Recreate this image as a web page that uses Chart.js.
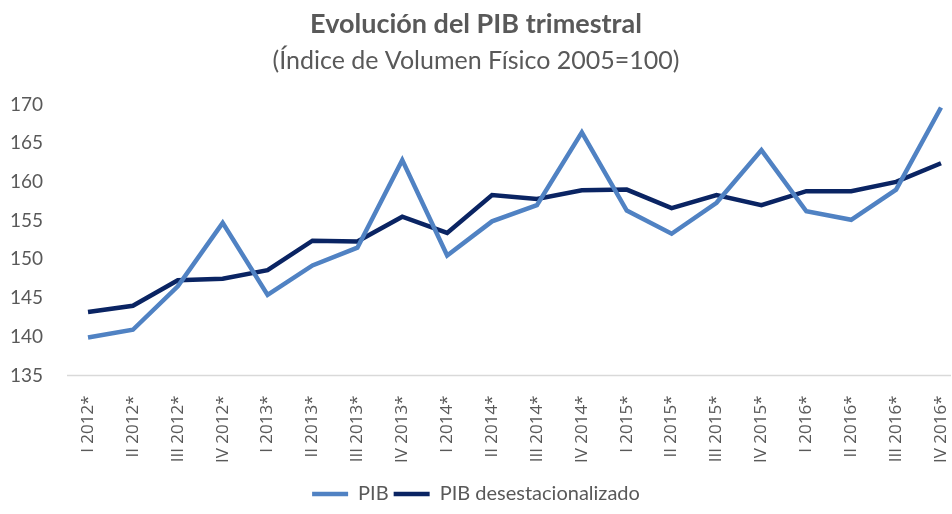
<!DOCTYPE html>
<html>
<head>
<meta charset="utf-8">
<script src="https://cdn.jsdelivr.net/npm/chart.js@4.4.1/dist/chart.umd.min.js"></script>
<style>
  html, body { margin: 0; padding: 0; background: #fff; }
  #wrap { width: 952px; height: 514px; position: relative; }
</style>
</head>
<body>
<div id="wrap"><canvas id="chart"></canvas></div>
<script>
const quarters = ['I 2012*', 'II 2012*', 'III 2012*', 'IV 2012*',
    'I 2013*', 'II 2013*', 'III 2013*', 'IV 2013*',
    'I 2014*', 'II 2014*', 'III 2014*', 'IV 2014*',
    'I 2015*', 'II 2015*', 'III 2015*', 'IV 2015*',
    'I 2016*', 'II 2016*', 'III 2016*', 'IV 2016*']

const pib = [139.9, 140.9, 146.5, 154.7, 145.4, 149.2, 151.5, 162.8, 150.5, 154.9,
    157.0, 166.4, 156.3, 153.3, 157.3, 164.1, 156.2, 155.1, 159.0, 169.6]

const pibDesest = [143.2, 144.0, 147.3, 147.5, 148.6, 152.4, 152.3, 155.5, 153.4, 158.3,
    157.8, 158.9, 159.0, 156.6, 158.3, 157.0, 158.8, 158.8, 160.0, 162.4]

const yTicks = [135, 140, 145, 150, 155, 160, 165, 170]

const FONT = 'Lato, "Open Sans", sans-serif'
const GRAY = '#595959'

// bottom axis line, a bit wider than the plotted points like in excel
const baseLine = {
    id: 'baseLine',
    beforeDatasetsDraw(chart) {
        const { ctx, chartArea, scales } = chart
        const y = Math.round(scales.y.getPixelForValue(yTicks[0])) + 0.5
        ctx.save()
        ctx.strokeStyle = '#d9d9d9'
        ctx.lineWidth = 1.5
        ctx.beginPath()
        ctx.moveTo(chartArea.left - 21, y)
        ctx.lineTo(chartArea.right + 10, y)
        ctx.stroke()
        ctx.restore()
    }
}

new Chart(document.getElementById('chart'), {
    type: 'line',
    data: {
        labels: quarters,
        datasets: [
            {
                label: 'PIB',
                data: pib,
                borderColor: '#5082c3',
                backgroundColor: '#5082c3',
                borderWidth: 4.5,
                pointRadius: 0,
                tension: 0
            },
            {
                label: 'PIB desestacionalizado',
                data: pibDesest,
                borderColor: '#0a2463',
                backgroundColor: '#0a2463',
                borderWidth: 4.5,
                pointRadius: 0,
                tension: 0
            }
        ]
    },
    options: {
        responsive: true,
        maintainAspectRatio: false,
        animation: false,
        layout: { padding: { left: 0, right: 0, top: 0, bottom: 0 } },
        plugins: {
            title: {
                display: true,
                text: 'Evolución del PIB trimestral',
                color: GRAY,
                font: { family: FONT, size: 27, weight: 'bold' },
                padding: { top: 8, bottom: 6 }
            },
            subtitle: {
                display: true,
                text: '(Índice de Volumen Físico 2005=100)',
                color: GRAY,
                font: { family: FONT, size: 25 },
                padding: { bottom: 28 }
            },
            legend: {
                position: 'bottom',
                labels: {
                    usePointStyle: true,
                    pointStyle: 'line',
                    pointStyleWidth: 36,
                    boxHeight: 5,
                    color: GRAY,
                    padding: 5,
                    font: { family: FONT, size: 20 }
                }
            },
            tooltip: { enabled: false }
        },
        scales: {
            x: {
                offset: false,
                grid: { display: false },
                border: { display: false },
                afterFit(axis) {
                    axis.height += 4
                    axis.paddingLeft = 0
                    axis.paddingRight = 11
                },
                ticks: {
                    color: GRAY,
                    minRotation: 90,
                    maxRotation: 90,
                    autoSkip: false,
                    padding: 12,
                    font: { family: '"Open Sans", sans-serif', size: 17 }
                }
            },
            y: {
                min: yTicks[0],
                max: yTicks[yTicks.length - 1],
                grid: { display: false },
                border: { display: false },
                afterBuildTicks(axis) {
                    axis.ticks = yTicks.map(v => ({ value: v }))
                },
                afterFit(axis) {
                    axis.width = 88
                },
                ticks: {
                    color: GRAY,
                    padding: 37,
                    font: { family: FONT, size: 19 }
                }
            }
        }
    },
    plugins: [baseLine]
});
</script>
</body>
</html>
